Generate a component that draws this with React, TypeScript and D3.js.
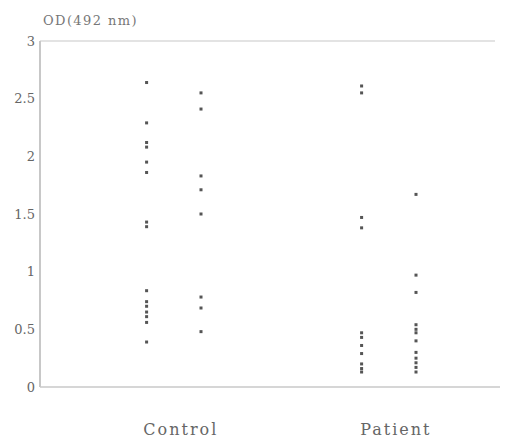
import React from "react";
import * as d3 from "d3";

const categories = ["Control", "Patient"];
const yTicks = [0, 0.5, 1, 1.5, 2, 2.5, 3];
const yTickLabels = ["0", "0.5", "1", "1.5", "2", "2.5", "3"];
const yLabel = "OD(492 nm)";

const controlA = [2.64, 2.29, 2.12, 2.08, 1.95, 1.86, 1.43, 1.39, 0.835, 0.74, 0.7, 0.65, 0.61, 0.56, 0.39];
const controlB = [2.55, 2.41, 1.83, 1.71, 1.5, 0.78, 0.685, 0.48];
const patientA = [2.61, 2.55, 1.47, 1.38, 0.47, 0.43, 0.36, 0.29, 0.2, 0.16, 0.13];
const patientB = [1.67, 0.97, 0.82, 0.54, 0.5, 0.47, 0.4, 0.3, 0.25, 0.21, 0.17, 0.13];

const series = [
  { cat: 0, sub: -1, values: controlA },
  { cat: 0, sub: 1, values: controlB },
  { cat: 1, sub: -1, values: patientA },
  { cat: 1, sub: 1, values: patientB },
];

export default function App() {
  const W = 511, H = 438;
  const left = 40, right = 495, top = 41, bottom = 387;
  const y = d3.scaleLinear().domain([0, 3]).range([bottom, top]);
  const x = d3.scaleLinear().domain([0, 1]).range([173.8, 388.8]);
  const subOff = 27.2;
  const ff = "DejaVu Serif";
  return (
    <svg width={W} height={H} style={{ position: "absolute", left: 0, top: 0, background: "#fff" }}>
      <rect x={0} y={0} width={W} height={H} fill="#fff" />
      <line x1={left} x2={left} y1={top} y2={bottom} stroke="#aaa" strokeWidth={1.3} />
      <line x1={left} x2={right} y1={top} y2={top} stroke="#c8c8c8" strokeWidth={1.2} />
      <line x1={left} x2={right + 5} y1={bottom} y2={bottom} stroke="#c8c8c8" strokeWidth={1.4} />
      {yTicks.map((t, i) => (
        <text key={t} x={35} y={y(t) + 4.5} textAnchor="end" fontFamily={ff} fontSize={13}
          fill="#666" letterSpacing={0}>{yTickLabels[i]}</text>
      ))}
      <text x={43} y={25} fontFamily={ff} fontSize={13} fill="#777" letterSpacing={1.4}>{yLabel}</text>
      {series.map((s, si) =>
        s.values.map((v, vi) => (
          <rect key={si + "-" + vi} x={x(s.cat) + s.sub * subOff - 1.5} y={y(v) - 1.5} width={3} height={3}
            fill="#555" />
        ))
      )}
      {categories.map((c, i) => (
        <text key={c} x={x(i) + 7} y={435} textAnchor="middle" fontFamily={ff} fontSize={16}
          fill="#666" letterSpacing={2}>{c}</text>
      ))}
    </svg>
  );
}
